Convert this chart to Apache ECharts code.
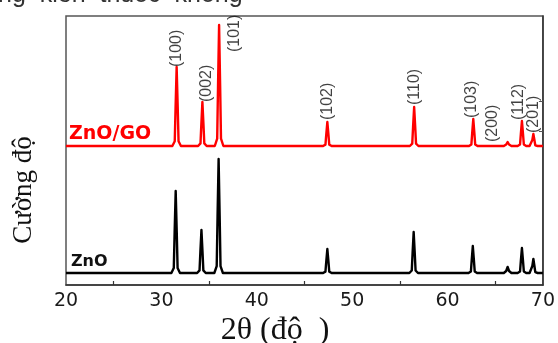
<!DOCTYPE html>
<html><head><meta charset="utf-8">
<script src="https://cdn.jsdelivr.net/npm/echarts@6/dist/echarts.min.js"></script>
<style>html,body{margin:0;padding:0;background:#fff}#c{width:558px;height:343px}</style>
</head><body><div id="c"></div>
<script>
// x-axis tick labels and minor tick positions (2θ, degrees)
const xLabelValues = [20, 30, 40, 50, 60, 70];
const xMinorTicks = [25, 35, 45, 55, 65];

// ZnO pattern: [2θ, intensity (a.u., includes vertical offset)]
const znoPoints = [
  [20, 12],
  [31.05, 12], [31.3, 17], [31.39, 53], [31.5, 94], [31.61, 53], [31.7, 17], [31.95, 12],
  [33.75, 12], [34.0, 14.6], [34.09, 33.5], [34.2, 55], [34.31, 33.5], [34.4, 14.6], [34.65, 12],
  [35.55, 12], [35.8, 18.8], [35.89, 69], [36.0, 126], [36.11, 69], [36.2, 18.8], [36.45, 12],
  [46.95, 12], [47.2, 13.4], [47.29, 24], [47.4, 36], [47.51, 24], [47.6, 13.4], [47.85, 12],
  [56.0, 12], [56.25, 14.5], [56.34, 32.5], [56.45, 53], [56.56, 32.5], [56.65, 14.5], [56.9, 12],
  [62.2, 12], [62.45, 13.6], [62.54, 25.5], [62.65, 39], [62.76, 25.5], [62.85, 13.6], [63.1, 12],
  [65.9, 12], [66.15, 14], [66.3, 18], [66.45, 14], [66.7, 12],
  [67.35, 12], [67.6, 13.5], [67.69, 24.5], [67.8, 37], [67.91, 24.5], [68.0, 13.5], [68.25, 12],
  [68.6, 12], [68.8, 12.8], [68.89, 19], [69.0, 26], [69.11, 19], [69.2, 12.8], [69.45, 12],
  [70, 12]
];

// ZnO/GO pattern (offset upward)
const znoGoPoints = [
  [20, 139],
  [31.15, 139], [31.4, 143.7], [31.49, 178.5], [31.6, 218], [31.71, 178.5], [31.8, 143.7], [32.05, 139],
  [33.85, 139], [34.1, 141.6], [34.19, 161], [34.3, 183], [34.41, 161], [34.5, 141.6], [34.75, 139],
  [35.6, 139], [35.85, 146.3], [35.94, 199.5], [36.05, 260], [36.16, 199.5], [36.25, 146.3], [36.5, 139],
  [46.95, 139], [47.2, 140.4], [47.29, 151], [47.4, 163], [47.51, 151], [47.6, 140.4], [47.85, 139],
  [56.05, 139], [56.3, 141.3], [56.39, 158.5], [56.5, 178], [56.61, 158.5], [56.7, 141.3], [56.95, 139],
  [62.25, 139], [62.5, 140.6], [62.59, 152.5], [62.7, 166], [62.81, 152.5], [62.9, 140.6], [63.15, 139],
  [65.9, 139], [66.15, 140.5], [66.3, 143], [66.45, 140.5], [66.7, 139],
  [67.35, 139], [67.6, 140.5], [67.69, 151.5], [67.8, 164], [67.91, 151.5], [68.0, 140.5], [68.25, 139],
  [68.6, 139], [68.8, 139.7], [68.89, 145], [69.0, 151], [69.11, 145], [69.2, 139.7], [69.45, 139],
  [70, 139]
];

// Miller index labels and where their text starts
const peakLabels = ['(100)', '(002)', '(101)', '(102)', '(110)', '(103)', '(200)', '(112)', '(201)'];
const peakLabelX = [31.61, 34.75, 37.68, 47.41, 56.51, 62.57, 64.77, 67.49, 69.06];
const peakLabelY = [218, 183, 233, 165, 180, 167, 143, 165, 152];

const rightTicks = [154, 184];

const chart = echarts.init(document.getElementById('c'), null, {renderer: 'canvas'});
chart.setOption({
  animation: false,
  backgroundColor: '#fff',
  grid: {left: 66, right: 14, top: 16, bottom: 58, show: true, borderColor: '#555', borderWidth: 1.5},
  xAxis: {
    type: 'value', min: 20, max: 70, interval: 10,
    axisLine: {show: true, lineStyle: {color: '#333', width: 1.5}},
    axisTick: {show: true, inside: true, length: 4, customValues: xMinorTicks, lineStyle: {color: '#333', width: 1.2}},
    axisLabel: {customValues: xLabelValues, color: '#1a1a1a', fontSize: 19, fontFamily: 'DejaVu Sans', margin: 7},
    splitLine: {show: false}
  },
  yAxis: {
    type: 'value', min: 0, max: 269, position: 'right',
    axisLine: {show: true, lineStyle: {color: '#333', width: 1.5}},
    axisTick: {show: true, inside: true, length: 4, customValues: rightTicks, lineStyle: {color: '#555'}},
    axisLabel: {show: false},
    splitLine: {show: false}
  },
  series: [
    {type: 'line', data: znoPoints, showSymbol: false, lineStyle: {color: '#000', width: 2.4, join: 'round'}, z: 3},
    {type: 'line', data: znoGoPoints, showSymbol: false, lineStyle: {color: '#ff0000', width: 2.4, join: 'round'}, z: 3},
    {
      type: 'scatter', symbolSize: 1, itemStyle: {color: 'rgba(0,0,0,0)'}, silent: true, z: 5,
      data: peakLabels.map((t, i) => [peakLabelX[i], peakLabelY[i], t]),
      label: {
        show: true, position: 'inside', rotate: 90, align: 'left', verticalAlign: 'middle',
        formatter: p => p.data[2], color: '#111', fontSize: 16, fontFamily: 'Liberation Sans'
      }
    }
  ],
  graphic: [
    {type: 'text', left: -2, top: -17, style: {text: 'ng  kiến  thuốc  không', fontSize: 25, fontFamily: 'Liberation Sans', fill: '#333'}},
    {type: 'text', x: 24, y: 190, rotation: Math.PI / 2, style: {text: 'Cường độ', fontSize: 27, fontFamily: 'Liberation Serif', fill: '#111', align: 'center', verticalAlign: 'middle'}},
    {type: 'text', x: 275, y: 331, style: {text: '2θ (độ  )', fontSize: 32, fontFamily: 'Liberation Serif', fill: '#111', align: 'center', verticalAlign: 'middle'}},
    {type: 'text', x: 69, y: 134, style: {text: 'ZnO/GO', fontSize: 19, fontWeight: 'bold', fontFamily: 'DejaVu Sans', fill: '#ff0000', align: 'left', verticalAlign: 'middle'}},
    {type: 'text', x: 71, y: 262, style: {text: 'ZnO', fontSize: 16, fontWeight: 'bold', fontFamily: 'DejaVu Sans', fill: '#111', align: 'left', verticalAlign: 'middle'}}
  ]
});
</script>
</body></html>
